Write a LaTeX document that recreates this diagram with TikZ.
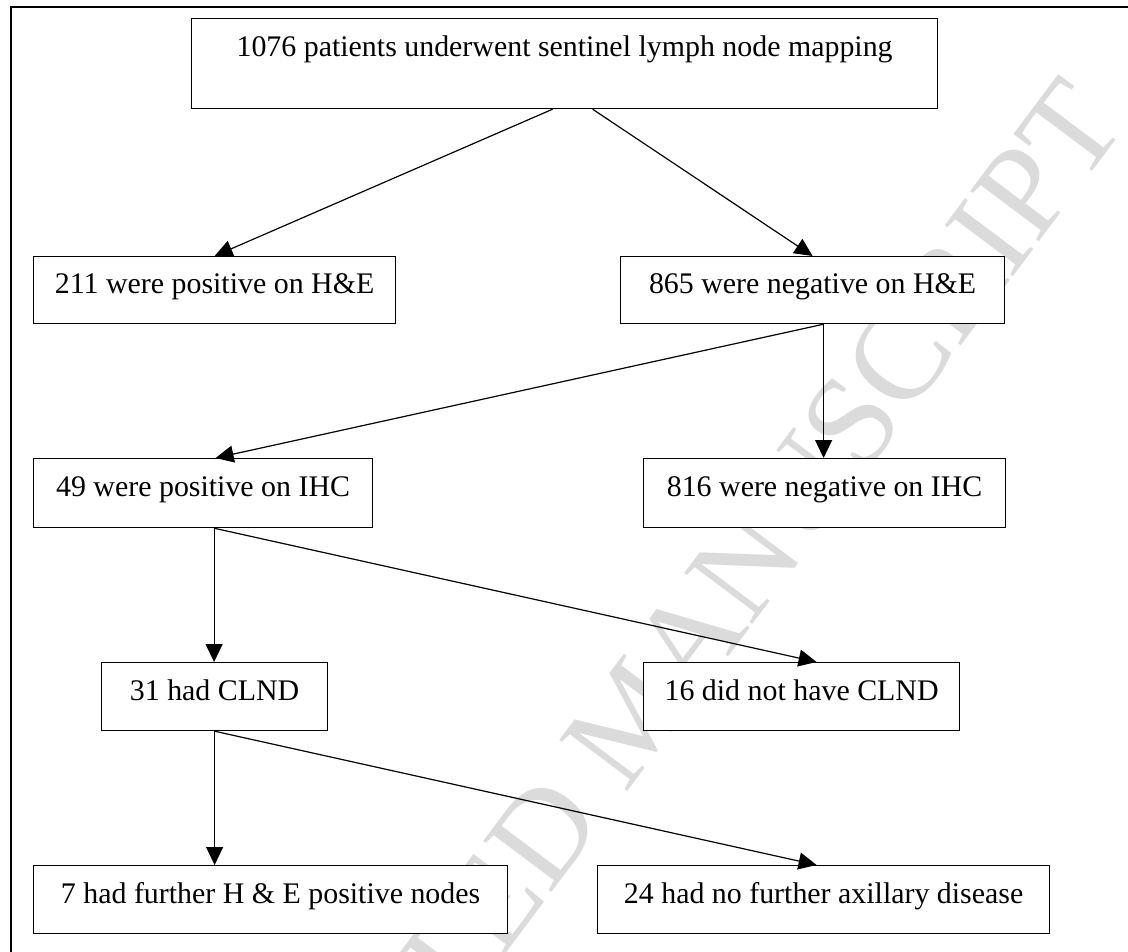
\documentclass[tikz,border=0pt]{standalone}
\usepackage{fontspec}
\setmainfont{Liberation Serif}
\usetikzlibrary{arrows.meta,decorations.text}
\definecolor{wmgray}{gray}{0.86}
\newcommand{\wmfont}{\fontsize{130}{130}\selectfont}
\begin{document}
\begin{tikzpicture}[x=1pt,y=-1pt,
  box/.style={draw=black, fill=white, line width=1.2pt, anchor=north west, inner sep=0pt,
    font=\fontsize{29.9}{36}\selectfont, text height=22pt, text depth=15pt, minimum height=68pt},
  arr/.style={draw=black, line width=1.2pt, -{Triangle[length=18pt,width=17pt]}},
  framestyle/.style={draw=black, line width=1.2pt}]
\useasboundingbox (0,0) rectangle (1128,952);
% watermark
\path[decorate, decoration={text along path, text={|\wmfont|ACCEPTED MANUSCRIPT},
  text align=right, text color=wmgray}] (203,1358) -- (1128,124);
% frame
\draw[framestyle] (11,960) -- (11,7) -- (1140,7);
% boxes
\node[box, minimum width=746pt, minimum height=90pt, text depth=37pt] (top) at (191,18)
  {1076 patients underwent sentinel lymph node mapping};
\node[box, minimum width=362pt, minimum height=67pt] (p211) at (33,256) {211 were positive on H\&E};
\node[box, minimum width=384pt, minimum height=67pt] (n865) at (620,256) {865 were negative on H\&E};
\node[box, minimum width=339pt, minimum height=69pt] (p49) at (33,458) {49 were positive on IHC};
\node[box, minimum width=362pt, minimum height=69pt] (n816) at (643,458) {816 were negative on IHC};
\node[box, minimum width=226pt] (c31) at (101,662) {31 had CLND};
\node[box, minimum width=316pt] (c16) at (643,662) {16 did not have CLND};
\node[box, minimum width=474pt] (f7) at (33,865) {7 had further H \& E positive nodes};
\node[box, minimum width=452pt] (f24) at (597,865) {24 had no further axillary disease};
% connectors
\draw[arr] ([xshift=-12pt]top.south) -- (p211.north);
\draw[arr] ([xshift=28pt]top.south) -- (n865.north);
\draw[arr] ([xshift=11pt]n865.south) -- ([xshift=12.5pt]p49.north);
\draw[arr] ([xshift=11pt]n865.south) -- ([xshift=11pt]n865.south |- n816.north);
\draw[arr] ([xshift=11pt]p49.south) -- ([xshift=11pt]p49.south |- c31.north);
\draw[arr] ([xshift=11pt]p49.south) -- ([xshift=15pt]c16.north);
\draw[arr] (c31.south) -- (c31.south |- f7.north);
\draw[arr] (c31.south) -- ([xshift=-7pt]f24.north);
\end{tikzpicture}
\end{document}
